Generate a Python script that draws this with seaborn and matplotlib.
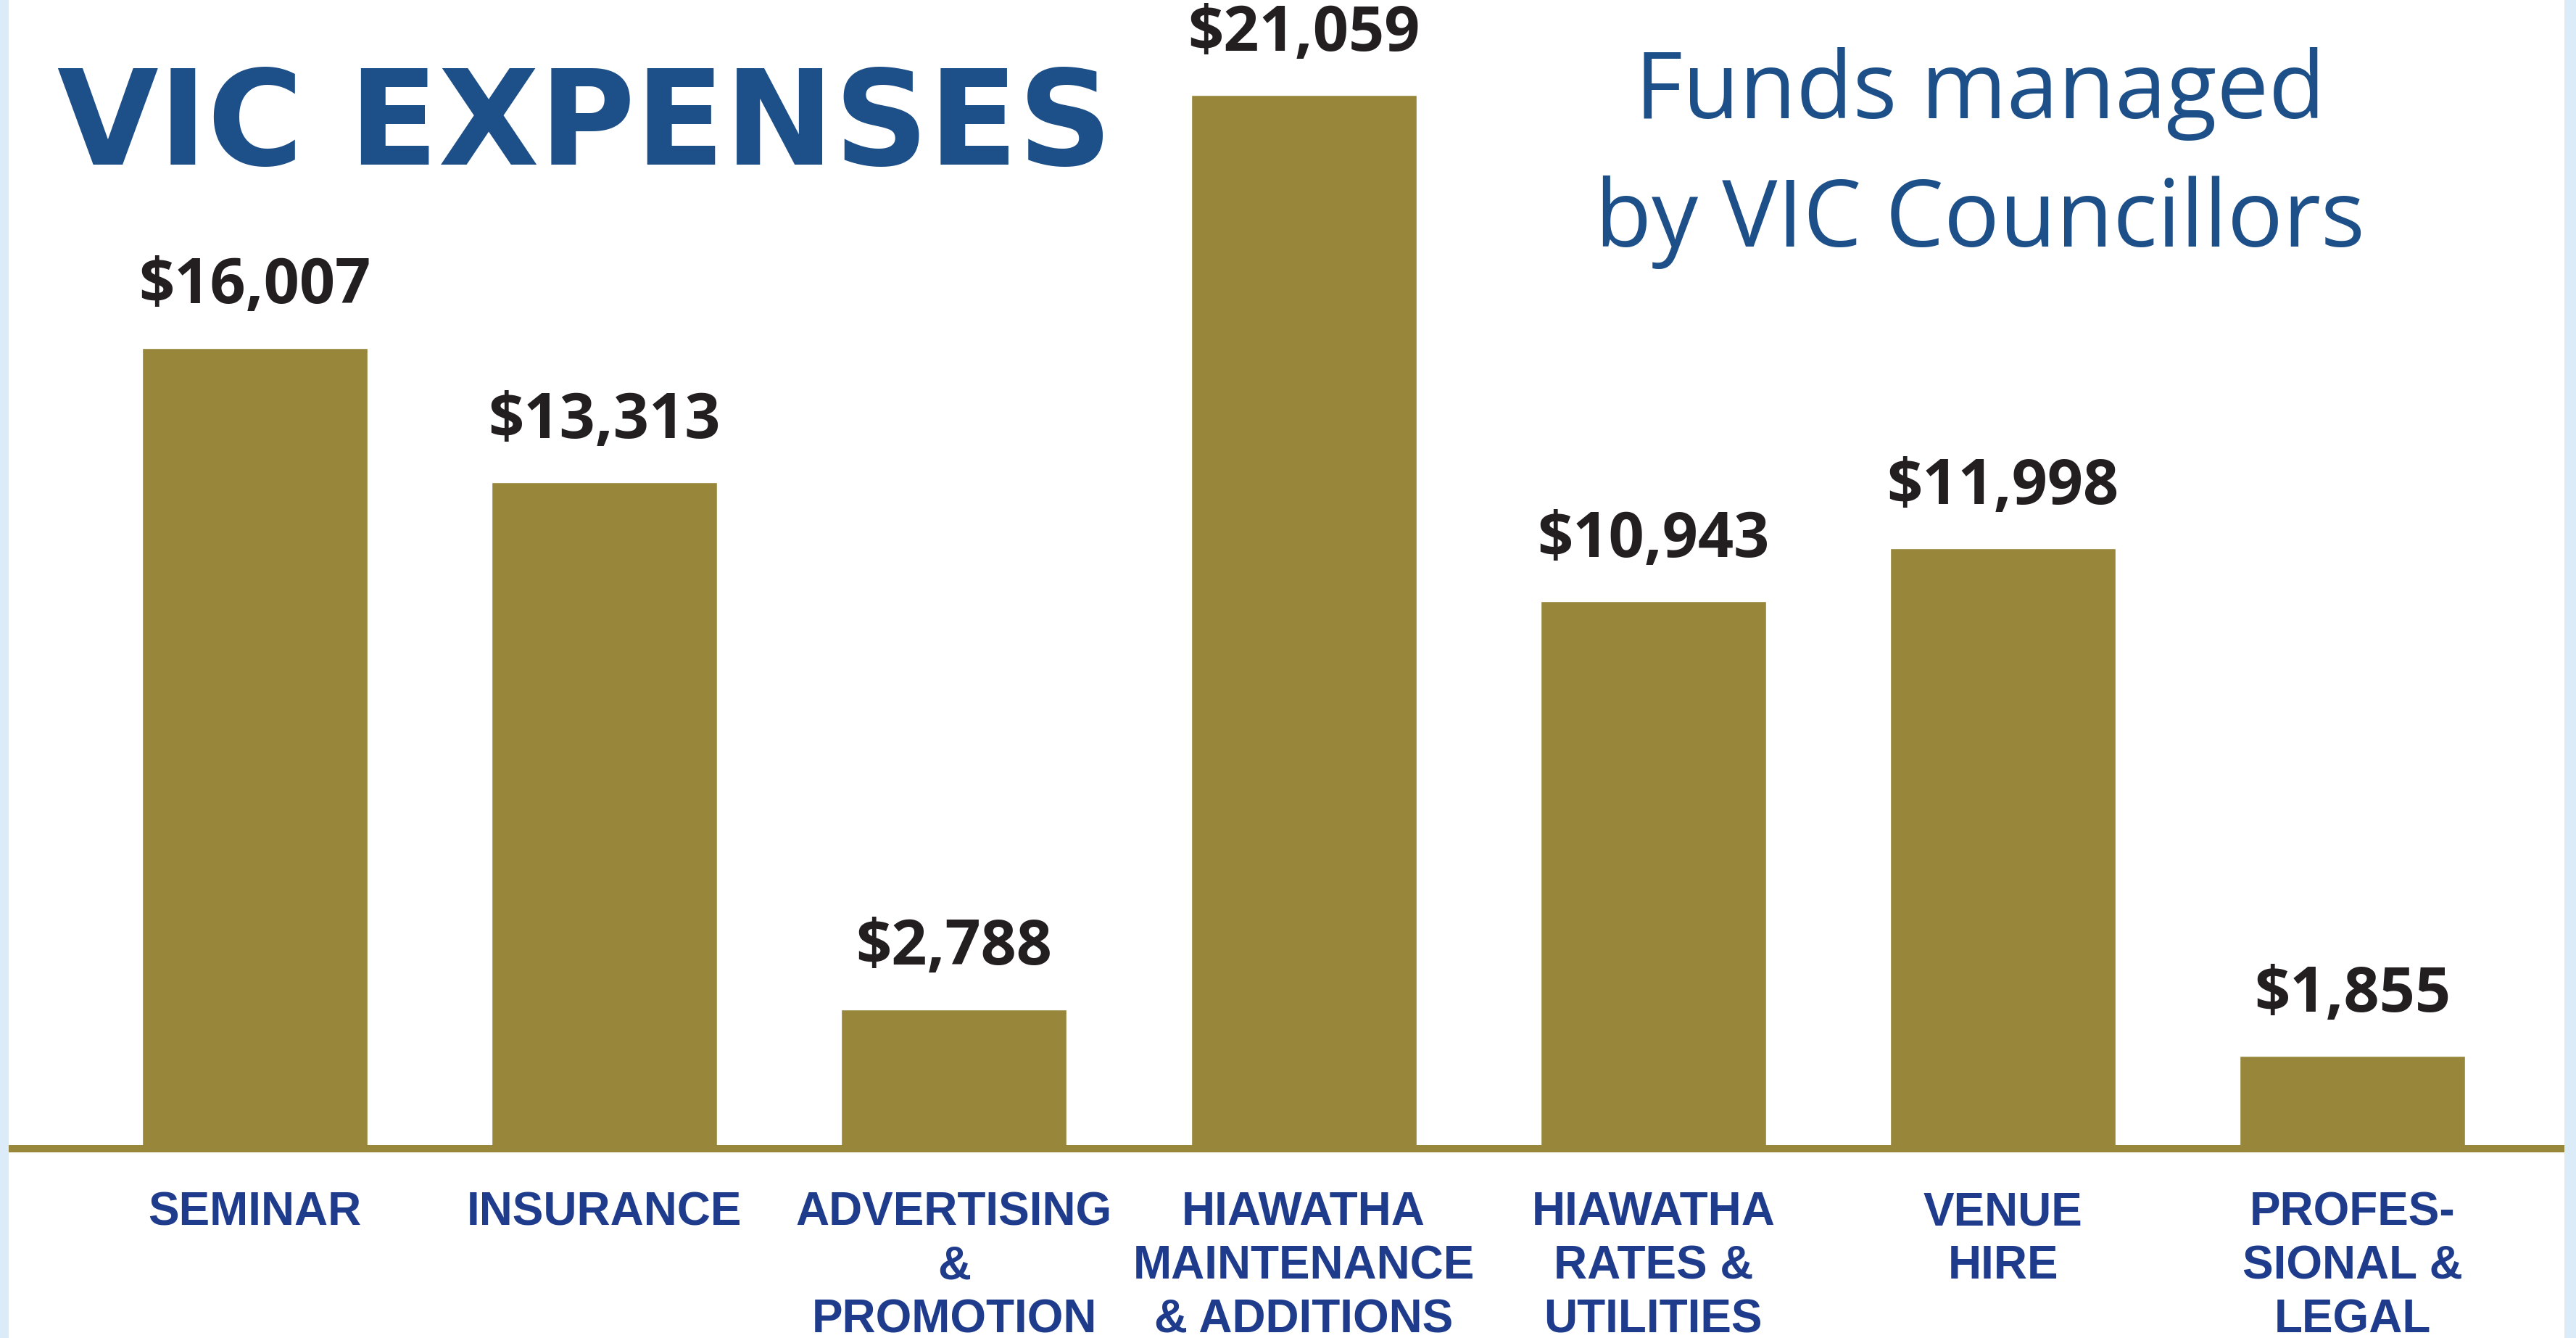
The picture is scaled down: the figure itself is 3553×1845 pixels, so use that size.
import matplotlib
matplotlib.use("Agg")
import matplotlib.pyplot as plt
import matplotlib.patches as mpatches
import pandas as pd
import seaborn as sns

# данные с картинки
categories = [
    "SEMINAR",
    "INSURANCE",
    "ADVERTISING\n&\nPROMOTION",
    "HIAWATHA\nMAINTENANCE\n& ADDITIONS",
    "HIAWATHA\nRATES &\nUTILITIES",
    "VENUE\nHIRE",
    "PROFES-\nSIONAL &\nLEGAL",
]
expenses = [16007, 13313, 2788, 21059, 10943, 11998, 1855]
value_labels = [f"${v:,}" for v in expenses]

title = "VIC EXPENSES"
subtitle_lines = ["Funds managed", "by VIC Councillors"]

GOLD = "#98873A"
NAVY = "#1D4F88"
LABEL_BLUE = "#1F3C8C"
BORDER = "#DCEBF8"

W, H = 3553, 1845
DPI = 100

sns.set_theme(style="white")
plt.rcParams["font.family"] = ["DejaVu Sans"]

fig = plt.figure(figsize=(W / DPI, H / DPI), dpi=DPI, facecolor="white")

# светло-голубые поля по краям
fig.patches.append(mpatches.Rectangle((0, 0), 12 / W, 1, transform=fig.transFigure,
                                      facecolor=BORDER, edgecolor="none", zorder=0))
fig.patches.append(mpatches.Rectangle((3537 / W, 0), 16 / W, 1, transform=fig.transFigure,
                                      facecolor=BORDER, edgecolor="none", zorder=0))

base_px = 1584
ax = fig.add_axes([16 / W, (H - base_px) / H, (3535 - 16) / W, base_px / H])
ax.set_facecolor("none")

df = pd.DataFrame({"category": categories, "amount": expenses})
sns.barplot(data=df, x="category", y="amount", color=GOLD, saturation=1,
            width=0.645, errorbar=None, ax=ax)

ax.set_xlim(-0.696, 6.602)
ax.set_ylim(0, 22957)

for s in ["top", "left", "right"]:
    ax.spines[s].set_visible(False)
ax.spines["bottom"].set_color(GOLD)
ax.spines["bottom"].set_linewidth(7.2)
ax.set_yticks([])
ax.set_xlabel("")
ax.set_ylabel("")
ax.tick_params(axis="x", length=0, pad=42)
for lbl in ax.get_xticklabels():
    lbl.set_fontfamily("Liberation Sans")
    lbl.set_fontweight("bold")
    lbl.set_fontsize(46)
    lbl.set_color(LABEL_BLUE)
    lbl.set_linespacing(1.3)

ax.bar_label(ax.containers[0], labels=value_labels, padding=29,
             fontsize=62, fontweight="bold", family="Open Sans", color="#231F20")

fig.text(79 / W, 1 - 227 / H, title, ha="left", va="baseline",
         fontsize=130, fontweight="bold", color=NAVY, family="DejaVu Sans")

for line, y in zip(subtitle_lines, [163, 340]):
    fig.text(2731 / W, 1 - y / H, line, ha="center", va="baseline",
             fontsize=92, color=NAVY, family="Open Sans")

fig.savefig("out.png", dpi=DPI, facecolor="white")
